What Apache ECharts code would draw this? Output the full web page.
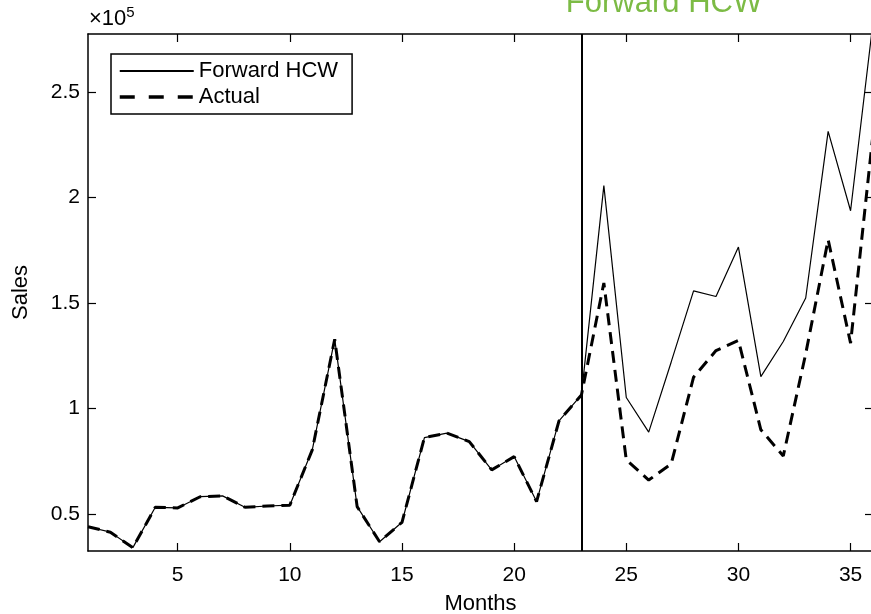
<!DOCTYPE html>
<html><head><meta charset="utf-8">
<script src="https://cdn.jsdelivr.net/npm/echarts@6/dist/echarts.min.js"></script>
<style>html,body{margin:0;padding:0;background:#fff}#c{width:871px;height:614px}</style>
</head><body><div id="c"></div>
<script>
const months = [1,2,3,4,5,6,7,8,9,10,11,12,13,14,15,16,17,18,19,20,21,22,23,24,25,26,27,28,29,30,31,32,33,34,35,36];
const forwardHCW = [44100,41500,34200,53300,53000,58300,58700,53300,53900,54300,80500,132900,53600,37000,46200,86300,88400,84400,71000,77300,56000,94200,106500,205600,105300,88900,122000,155800,153100,176500,115200,131800,152400,231300,193700,283000];
const actual = [44100,41500,34200,53300,53000,58300,58700,53300,53900,54300,80500,132900,53600,37000,46200,86300,88400,84400,71000,77300,56000,94200,106500,159500,75700,66200,73800,114900,127500,132300,90000,77600,126000,180000,131000,230000];
const xTicks = [5,10,15,20,25,30,35];
const yTicks = [50000,100000,150000,200000,250000];
const yTickLabels = ['0.5','1','1.5','2','2.5'];
const interventionMonth = 23;
const seriesNames = ['Forward HCW','Actual'];

const FONT = 'Liberation Sans';
const chart = echarts.init(document.getElementById('c'), null, {renderer:'canvas'});
const axisLineStyle = {color:'#000', width:1.5};
const tickStyle = {color:'#000', width:1.2};
function xAxisDef(pos, labels){
  return {
    type:'value', min:1, max:36, position:pos,
    axisLine:{show:true, onZero:false, lineStyle:axisLineStyle},
    axisTick:{show:true, inside:true, length:8, customValues:xTicks, lineStyle:tickStyle},
    axisLabel:{show:labels, customValues:xTicks, margin:14, fontSize:21, color:'#000', fontFamily:FONT},
    splitLine:{show:false},
    name: labels ? 'Months' : '', nameLocation:'middle', nameGap:42,
    nameTextStyle:{fontSize:22, color:'#000', fontFamily:FONT}
  };
}
function yAxisDef(pos, labels){
  return {
    type:'value', min:32600, max:277400, position:pos,
    axisLine:{show:true, onZero:false, lineStyle:axisLineStyle},
    axisTick:{show:true, inside:true, length:8, customValues:yTicks, lineStyle:tickStyle},
    axisLabel:{show:labels, customValues:yTicks, margin:8, fontSize:21, color:'#000', fontFamily:FONT,
      formatter: v => yTickLabels[yTicks.indexOf(v)]},
    splitLine:{show:false},
    name: labels ? 'Sales' : '', nameLocation:'middle', nameGap:56, nameRotate:90,
    nameTextStyle:{fontSize:22, color:'#000', fontFamily:FONT}
  };
}
chart.setOption({
  animation:false,
  backgroundColor:'#fff',
  grid:{left:88, top:34, width:785, height:517, containLabel:false, outerBoundsMode:'none'},
  xAxis:[xAxisDef('bottom', true), xAxisDef('top', false)],
  yAxis:[yAxisDef('left', true), yAxisDef('right', false)],
  legend:{
    data:[
      {name:seriesNames[0], lineStyle:{width:2, type:'solid'}},
      {name:seriesNames[1], lineStyle:{width:3.5, type:[15,14]}}
    ],
    orient:'vertical', left:111, top:54,
    itemWidth:74, itemHeight:14, itemGap:4, padding:[6,14,6,7],
    borderColor:'#000', borderWidth:1.5, borderRadius:0, backgroundColor:'#fff',
    itemStyle:{opacity:0},
    textStyle:{fontSize:22, color:'#000', fontFamily:FONT}
  },
  graphic:[
    {type:'text', left:89, top:5, style:{
      text:'{a|×10}{b|5}', rich:{a:{fontSize:22, fontFamily:FONT, fill:'#000', verticalAlign:'bottom'},
        b:{fontSize:15, fontFamily:FONT, fill:'#000', verticalAlign:'top', padding:[0,0,10,0]}}}},
    {type:'text', x:664, y:3, style:{text:'Forward HCW', fontSize:31, fontFamily:FONT, fill:'#7cbb45', align:'center', verticalAlign:'middle'}}
  ],
  series:[
    {name:seriesNames[0], type:'line', symbol:'none', xAxisIndex:0, yAxisIndex:0,
     data: months.map((m,i)=>[m, forwardHCW[i]]),
     lineStyle:{color:'#000', width:1.2, type:'solid'}, itemStyle:{color:'#000'},
     markLine:{symbol:'none', silent:true, label:{show:false}, lineStyle:{color:'#000', width:2, type:'solid'},
       data:[{xAxis:interventionMonth}]}},
    {name:seriesNames[1], type:'line', symbol:'none', xAxisIndex:0, yAxisIndex:0,
     data: months.map((m,i)=>[m, actual[i]]),
     lineStyle:{color:'#000', width:3, type:[12,7]}, itemStyle:{color:'#000'}}
  ]
});
</script></body></html>
